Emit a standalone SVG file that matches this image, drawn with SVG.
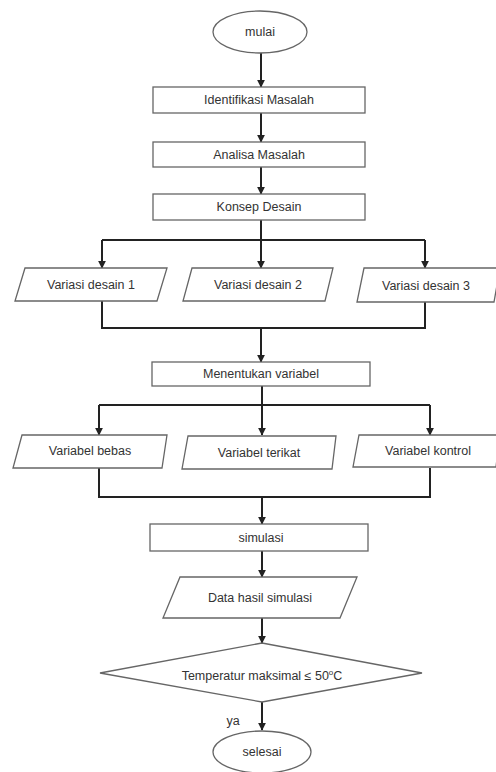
<svg xmlns="http://www.w3.org/2000/svg" width="496" height="772" viewBox="0 0 496 772">
<defs>
<marker id="ah" viewBox="0 0 10 10" refX="9" refY="5" markerWidth="4" markerHeight="4" orient="auto" markerUnits="strokeWidth">
<path d="M0,0 L10,5 L0,10 z" fill="#222"/>
</marker>
<style>
.s{fill:#fff;stroke:#666;stroke-width:1.3}
.t{font-family:"Liberation Sans",Arial,sans-serif;font-size:12.5px;fill:#333;text-anchor:middle;dominant-baseline:central}
.c{fill:none;stroke:#222;stroke-width:2}
.a{fill:none;stroke:#222;stroke-width:2;marker-end:url(#ah)}
</style>
</defs>
<rect width="496" height="772" fill="#fff"/>
<g id="connectors">
<line class="a" x1="261" y1="53" x2="261" y2="87"/>
<line class="a" x1="261" y1="113" x2="261" y2="142"/>
<line class="a" x1="261" y1="167" x2="261" y2="194"/>
<polyline class="c" points="261,220 261,240"/>
<polyline class="c" points="102,240 425,240"/>
<line class="a" x1="102" y1="240" x2="102" y2="268"/>
<line class="a" x1="261" y1="240" x2="261" y2="268"/>
<line class="a" x1="425" y1="240" x2="425" y2="268"/>
<polyline class="c" points="102,301 102,328 425,328 425,301"/>
<line class="a" x1="261" y1="328" x2="261" y2="362"/>
<polyline class="c" points="262,386 262,405"/>
<polyline class="c" points="99,405 430,405"/>
<line class="a" x1="99" y1="405" x2="99" y2="435"/>
<line class="a" x1="262" y1="405" x2="262" y2="435"/>
<line class="a" x1="430" y1="405" x2="430" y2="435"/>
<polyline class="c" points="99,468 99,497 430,497 430,468"/>
<line class="a" x1="262" y1="497" x2="262" y2="524"/>
<line class="a" x1="262" y1="551" x2="262" y2="577"/>
<line class="a" x1="262" y1="618" x2="262" y2="643"/>
<line class="a" x1="262" y1="702" x2="262" y2="730"/>
<text class="t" x="233" y="721">ya</text>
</g>
<g id="mulai"><ellipse class="s" cx="260" cy="32" rx="47" ry="21"/><text class="t" x="260" y="32">mulai</text></g>
<g id="identifikasi"><rect class="s" x="153" y="87" width="212" height="26"/><text class="t" x="259" y="100">Identifikasi Masalah</text></g>
<g id="analisa"><rect class="s" x="153" y="142" width="212" height="25"/><text class="t" x="259" y="155">Analisa Masalah</text></g>
<g id="konsep"><rect class="s" x="153" y="194" width="212" height="26"/><text class="t" x="259" y="207">Konsep Desain</text></g>
<g id="variasi1"><polygon class="s" points="25,268 167,268 157,301 15,301"/><text class="t" x="91" y="285">Variasi desain 1</text></g>
<g id="variasi2"><polygon class="s" points="192,268 333,268 325,301 183,301"/><text class="t" x="258" y="285">Variasi desain 2</text></g>
<g id="variasi3"><polygon class="s" points="364,268 500,268 494,302 357,302"/><text class="t" x="426" y="286">Variasi desain 3</text></g>
<g id="menentukan"><rect class="s" x="152" y="362" width="218" height="24"/><text class="t" x="261" y="374">Menentukan variabel</text></g>
<g id="bebas"><polygon class="s" points="22,435 167,435 162,468 13,468"/><text class="t" x="90" y="451">Variabel bebas</text></g>
<g id="terikat"><polygon class="s" points="188,436 336,436 332,469 182,469"/><text class="t" x="259" y="453">Variabel terikat</text></g>
<g id="kontrol"><polygon class="s" points="359,435 500,435 496,467 353,467"/><text class="t" x="428" y="451">Variabel kontrol</text></g>
<g id="simulasi"><rect class="s" x="150" y="524" width="218" height="27"/><text class="t" x="261" y="538">simulasi</text></g>
<g id="data"><polygon class="s" points="180,577 357,577 340,618 163,618"/><text class="t" x="260" y="598">Data hasil simulasi</text></g>
<g id="temperatur"><polygon class="s" points="262,643 422,673 262,702 100,673"/><text class="t" x="262" y="676">Temperatur maksimal ≤ 50<tspan dy="-4" font-size="8">o</tspan><tspan dy="4">C</tspan></text></g>
<g id="selesai"><ellipse class="s" cx="262" cy="752" rx="49" ry="21"/><text class="t" x="262" y="752">selesai</text></g>
</svg>
